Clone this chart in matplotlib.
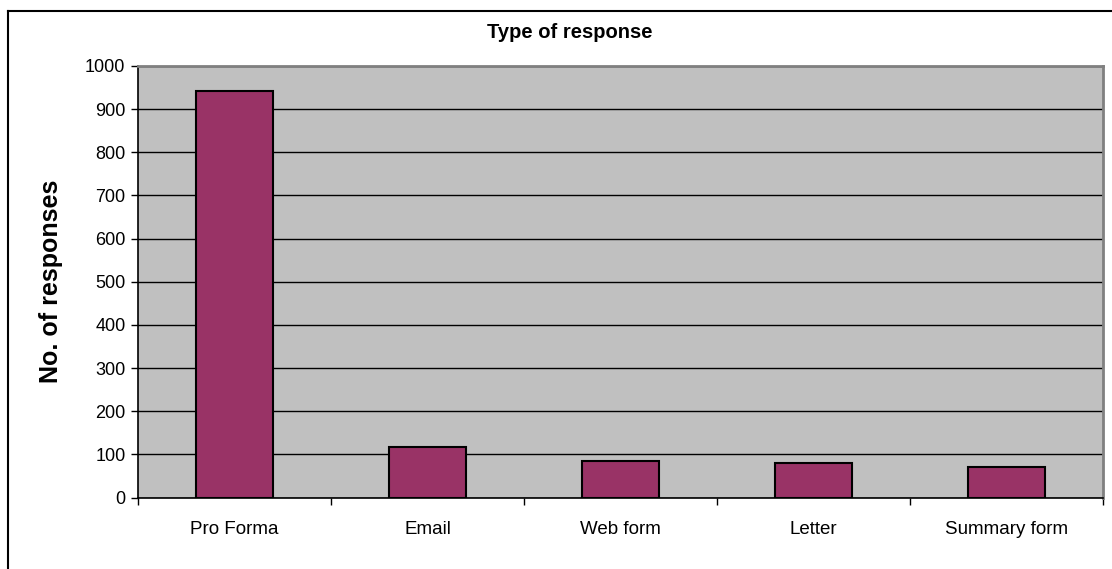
import matplotlib.pyplot as plt
from matplotlib.lines import Line2D

# donnees
categories = ["Pro Forma", "Email", "Web form", "Letter", "Summary form"]
responses = [943, 118, 84, 80, 70]
yticks = list(range(0, 1001, 100))

plt.rcParams['font.family'] = ['Liberation Sans', 'DejaVu Sans']

W, H = 1112, 569
fig = plt.figure(figsize=(W / 100, H / 100), dpi=100)
ax = fig.add_axes([138 / W, 1 - 497.5 / H, (1103 - 138) / W, (497.5 - 66) / H])

ax.set_facecolor('#c0c0c0')
x = range(len(categories))
ax.bar(x, responses, width=0.4, color='#993366', edgecolor='black', linewidth=1.5, zorder=3)

ax.set_xlim(-0.5, len(categories) - 0.5)
ax.set_ylim(0, 1000)
ax.set_yticks(yticks)
ax.set_yticklabels([str(v) for v in yticks], fontsize=13)
ax.yaxis.grid(True, color='black', linewidth=1, zorder=1)

ax.set_xticks(list(x))
ax.set_xticklabels(categories, fontsize=13.5)
ax.tick_params(axis='x', which='major', length=0, pad=17)
ax.set_xticks([i - 0.5 for i in range(len(categories) + 1)], minor=True)
ax.tick_params(axis='x', which='minor', length=5, width=1, color='black')
ax.tick_params(axis='y', length=5, width=1, color='black', pad=4)

ax.spines['left'].set_color('black')
ax.spines['bottom'].set_color('black')
ax.spines['left'].set_linewidth(1.2)
ax.spines['bottom'].set_linewidth(1.2)
ax.spines['top'].set_color('#808080')
ax.spines['right'].set_color('#808080')
ax.spines['top'].set_linewidth(2)
ax.spines['right'].set_linewidth(2)

ax.set_ylabel("No. of responses", fontsize=18, fontweight='bold', labelpad=16)
fig.text(570 / W, 1 - 32 / H, "Type of response", fontsize=14.5, fontweight='bold',
         ha='center', va='center')

# cadre exterieur (seulement gauche et haut visibles)
fig.add_artist(Line2D([7.5 / W, 7.5 / W], [0, 1 - 10.5 / H], color='black', linewidth=1.5))
fig.add_artist(Line2D([7.5 / W, 1], [1 - 10.5 / H, 1 - 10.5 / H], color='black', linewidth=1.5))

fig.savefig("out.png", dpi=100, facecolor='white')
